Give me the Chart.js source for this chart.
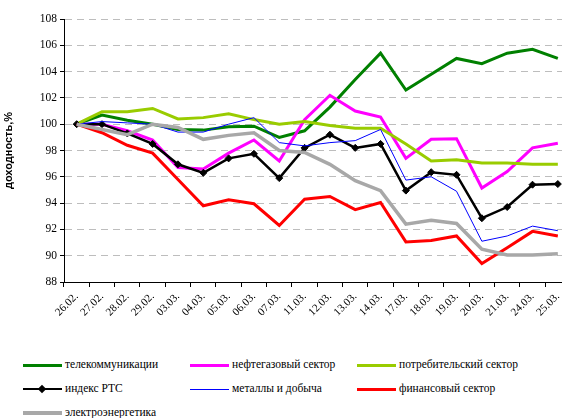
<!DOCTYPE html>
<html>
<head>
<meta charset="utf-8">
<script src="https://cdn.jsdelivr.net/npm/chart.js@4.4.0/dist/chart.umd.min.js"></script>
<style>
  html, body { margin: 0; padding: 0; background: #fff; overflow: hidden; width: 562px; height: 418px; }
  #wrap { position: relative; width: 562px; height: 418px; overflow: hidden; }
  #chart { position: absolute; left: 0; top: 0; }
  .leg { position: absolute; font-family: "Liberation Serif", "Liberation Sans", Arial, sans-serif; font-size: 11.5px; color: #000; white-space: nowrap; }
  .leg .ln { position: absolute; left: 0; width: 39px; }
  .leg .tx { position: absolute; left: 42px; top: -7px; }
</style>
</head>
<body>
<div id="wrap">
  <canvas id="chart" width="575" height="340"></canvas>
  <div id="legend"></div>
</div>
<script>
// --- Datos ---
const fechas = ['26.02.', '27.02.', '28.02.', '29.02.', '03.03.', '04.03.', '05.03.', '06.03.', '07.03.', '11.03.',
                '12.03.', '13.03.', '14.03.', '17.03.', '18.03.', '19.03.', '20.03.', '21.03.', '24.03.', '25.03.'];

const telekom = [100, 100.7, 100.3, 100.0, 99.6, 99.55, 99.8, 99.85, 99.0, 99.5,
                 101.3, 103.4, 105.4, 102.6, 103.8, 105.0, 104.6, 105.4, 105.7, 105.0];
const neftegaz = [100, 100.0, 99.5, 98.8, 96.7, 96.6, 97.8, 98.8, 97.2, 100.35,
                  102.2, 101.0, 100.55, 97.4, 98.85, 98.9, 95.15, 96.4, 98.2, 98.55];
const potreb = [100, 100.95, 100.95, 101.2, 100.4, 100.5, 100.8, 100.35, 100.0, 100.2,
                99.9, 99.7, 99.7, 98.5, 97.2, 97.3, 97.05, 97.05, 96.95, 96.95];
const indeksRTS = [100, 100.0, 99.3, 98.5, 96.95, 96.3, 97.4, 97.75, 95.9, 98.2,
                   99.2, 98.2, 98.5, 94.95, 96.35, 96.15, 92.85, 93.7, 95.4, 95.45];
const metally = [100, 100.2, 100.1, 100.0, 99.4, 99.4, 100.0, 100.5, 98.6, 98.35,
                 98.6, 98.75, 99.6, 95.75, 96.0, 94.9, 91.1, 91.5, 92.25, 91.9];
const finans = [100, 99.35, 98.4, 97.8, 95.8, 93.8, 94.25, 93.95, 92.3, 94.3,
                94.5, 93.5, 94.05, 91.05, 91.15, 91.5, 89.4, 90.6, 91.85, 91.5];
const elektro = [100, 99.6, 99.2, 100.0, 99.75, 98.85, 99.15, 99.35, 98.0, 97.85,
                 96.95, 95.7, 94.95, 92.4, 92.7, 92.45, 90.5, 90.05, 90.05, 90.15];

const nombres = ['телекоммуникации', 'нефтегазовый сектор', 'потребительский сектор', 'индекс РТС',
                 'металлы и добыча', 'финансовый сектор', 'электроэнергетика'];
const yTicks = [88, 90, 92, 94, 96, 98, 100, 102, 104, 106, 108];

// --- Estilos de las series ---
const series = [
    { data: telekom,   color: '#008000', width: 3 },
    { data: neftegaz,  color: '#FF00FF', width: 3 },
    { data: potreb,    color: '#99CC00', width: 3 },
    { data: indeksRTS, color: '#000000', width: 2.5, marker: true },
    { data: metally,   color: '#0000FF', width: 1 },
    { data: finans,    color: '#FF0000', width: 3 },
    { data: elektro,   color: '#A8A8A8', width: 3.5 }
];

const datasets = series.map((s, i) => ({
    label: nombres[i],
    data: s.data,
    borderColor: s.color,
    backgroundColor: s.color,
    borderWidth: s.width,
    tension: 0,
    pointStyle: 'rectRot',
    pointRadius: s.marker ? 3.5 : 0,
    pointBorderWidth: 1,
    pointHoverRadius: 0,
    order: series.length - i // la primera serie se dibuja debajo, como en Excel
}));

const fuente = '"Liberation Serif", "Liberation Sans", Arial, sans-serif';

new Chart(document.getElementById('chart'), {
    type: 'line',
    data: { labels: fechas, datasets: datasets },
    options: {
        responsive: false,
        animation: false,
        devicePixelRatio: 1,
        layout: { padding: { top: 19, right: 3, left: 0, bottom: 0 } },
        plugins: { legend: { display: false }, tooltip: { enabled: false } },
        scales: {
            x: {
                offset: true,
                grid: { offset: true, drawOnChartArea: false, tickLength: 5, tickColor: '#000', color: '#000' },
                border: { color: '#000', width: 1 },
                ticks: { color: '#000', font: { family: fuente, size: 11 }, maxRotation: 45, minRotation: 45, autoSkip: false, padding: 3 },
                afterFit: s => { s.height = 58; }
            },
            y: {
                min: 88,
                max: 108,
                afterBuildTicks: s => { s.ticks = yTicks.map(v => ({ value: v })); },
                grid: { color: '#BDBDBD', lineWidth: 1, tickLength: 4, tickColor: '#000', tickBorderDash: [] },
                border: { color: '#000', width: 1, dash: [7, 5] },
                ticks: { color: '#000', font: { family: fuente, size: 11.5 }, padding: 3 },
                title: { display: true, text: 'доходность,%', color: '#000', font: { family: '"Liberation Sans", Arial, sans-serif', size: 11, weight: 'bold' }, padding: 2 },
                afterFit: s => { s.width = 64; }
            }
        }
    }
});

// --- Leyenda (3 columnas, como en el original) ---
const legendPos = [
    [23, 365], [190, 365], [357, 365],
    [23, 389], [190, 389], [357, 389],
    [23, 413]
];
const legend = document.getElementById('legend');
series.forEach((s, i) => {
    const div = document.createElement('div');
    div.className = 'leg';
    div.style.left = legendPos[i][0] + 'px';
    div.style.top = legendPos[i][1] + 'px';
    const h = s.width;
    let html = `<div class="ln" style="top:${-h / 2}px;height:${h}px;background:${s.color}"></div>`;
    if (s.marker) {
        html += `<div style="position:absolute;left:16px;top:-3px;width:6px;height:6px;background:#000;transform:rotate(45deg)"></div>`;
    }
    html += `<span class="tx">${nombres[i]}</span>`;
    div.innerHTML = html;
    legend.appendChild(div);
});
</script>
</body>
</html>
